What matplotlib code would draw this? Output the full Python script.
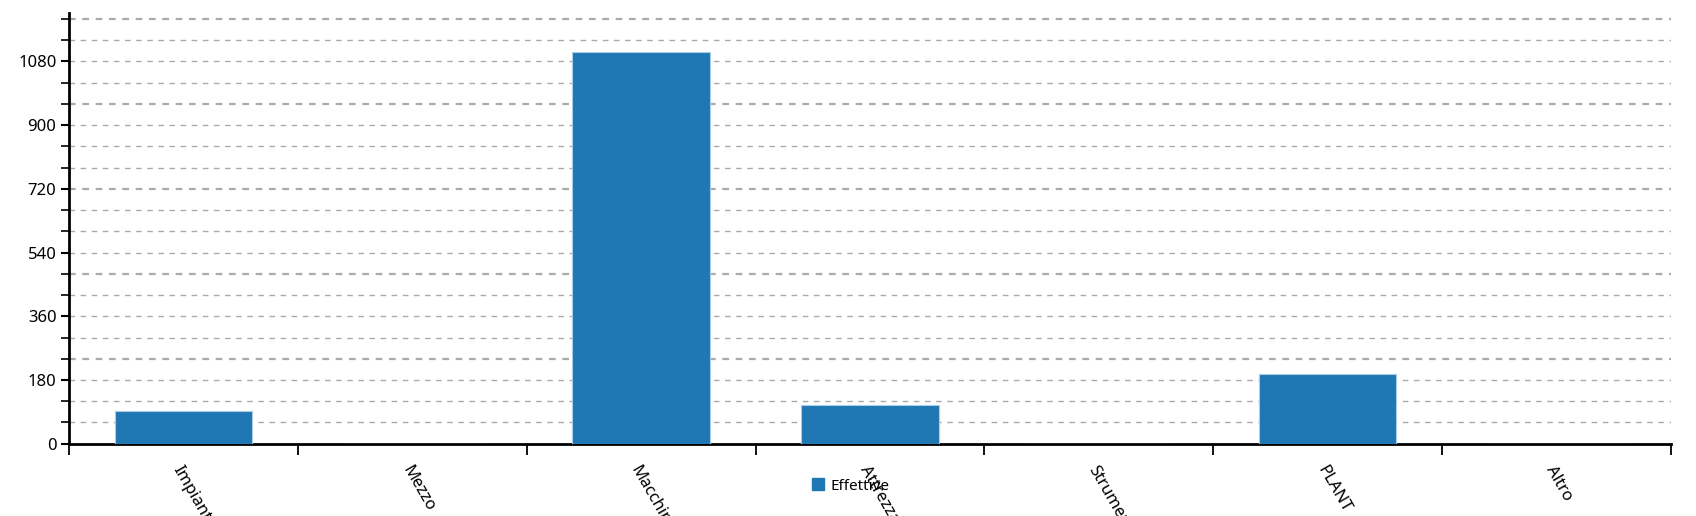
import matplotlib
matplotlib.use("Agg")
import matplotlib.pyplot as plt
from matplotlib.patches import Patch
import numpy as np

categories = ["Impianti", "Mezzo", "Macchine", "Attrezzature", "Strumenti", "PLANT", "Altro"]
effettive = [93, 0, 1106, 108, 0, 197, 0]
y_ticks = [0, 180, 360, 540, 720, 900, 1080]
series_name = "Effettive"

plt.rcParams['font.family'] = ['Noto Sans', 'DejaVu Sans']

fig = plt.figure(figsize=(16.96, 5.16), dpi=100)
ax = fig.add_axes([69/1696, 1-443.7/516, (1671-69)/1696, (443.7-13.3)/516])

x = np.arange(len(categories))
ax.bar(x, effettive, width=0.6, color="#1f77b4", edgecolor="#a9cde6", linewidth=0.8, zorder=3)

ax.set_xlim(-0.5, len(categories) - 0.5)
ax.set_ylim(0, 1216)

# grid lines every 60, heavier on multiples of 240
for v in np.arange(60, 1216, 60):
    heavy = (v % 240 == 0)
    ax.axhline(v, color="#aaaaaa", lw=1.6 if heavy else 1.0,
               ls=(0, (4, 4)) if not heavy else (0, (3, 3)), zorder=1)

for s in ["top", "right"]:
    ax.spines[s].set_visible(False)
for s in ["left", "bottom"]:
    ax.spines[s].set_linewidth(2)
    ax.spines[s].set_color("black")

ax.set_yticks(y_ticks)
ax.set_yticklabels([str(v) for v in y_ticks], fontsize=12)
ax.set_yticks(np.arange(0, 1216, 60), minor=True)
ax.tick_params(axis="y", which="major", length=6, width=1.5, pad=3)
ax.tick_params(axis="y", which="minor", length=6, width=1.2)

ax.set_xticks(np.arange(-0.5, len(categories), 1.0))
ax.set_xticklabels([])
ax.tick_params(axis="x", which="major", length=8, width=1.3)
ax.set_xticks(x, minor=True)
ax.set_xticklabels(categories, minor=True, rotation=-60, ha="left", va="top",
                   rotation_mode="anchor", fontsize=12)
ax.tick_params(axis="x", which="minor", length=0, pad=14)

fig.legend(handles=[Patch(facecolor="#1f77b4", edgecolor="#1f77b4", label=series_name)],
           loc="center left", bbox_to_anchor=(812/1696, 1-486/516), frameon=False,
           handlelength=0.8, handleheight=0.8, handletextpad=0.4, fontsize=11,
           borderpad=0, borderaxespad=0)

fig.savefig("out.png", dpi=100)
